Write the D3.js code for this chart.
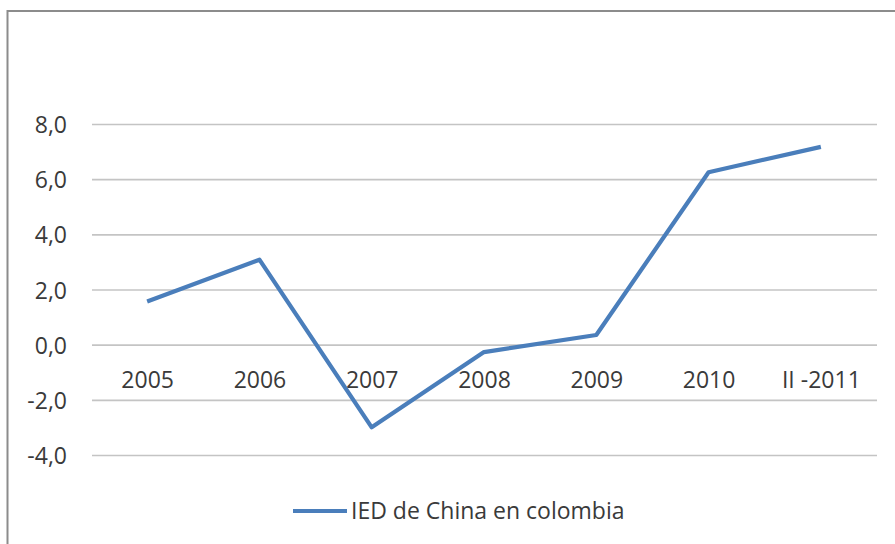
<!DOCTYPE html>
<html>
<head>
<meta charset="utf-8">
<script src="https://cdn.jsdelivr.net/npm/d3@7"></script>
<style>
html,body{margin:0;padding:0;background:#fff;}
svg{display:block;}
</style>
</head>
<body>
<svg id="chart" width="895" height="544"></svg>
<script>
const categories = ["2005","2006","2007","2008","2009","2010","II -2011"];
const values = [1.58, 3.10, -2.98, -0.25, 0.37, 6.27, 7.19];
const yTicks = [-4, -2, 0, 2, 4, 6, 8];
const seriesName = "IED de China en colombia";

const svg = d3.select("#chart");
const font = "'Open Sans', 'Noto Sans', sans-serif";
const textColor = "#3a3a3a";
const fs = 23;

// outer border
svg.append("rect")
  .attr("x", 7.5).attr("y", 11)
  .attr("width", 900).attr("height", 600)
  .attr("fill", "none").attr("stroke", "#8c8c8c").attr("stroke-width", 2);

const x = d3.scalePoint().domain(categories).range([91, 877]).padding(0.5);
const y = d3.scaleLinear().domain([-4, 8]).range([455.5, 124.5]);

// gridlines
svg.append("g").selectAll("line").data(yTicks).join("line")
  .attr("x1", 92).attr("x2", 877)
  .attr("y1", d => y(d)).attr("y2", d => y(d))
  .attr("stroke", "#c4c4c4").attr("stroke-width", 1.6);

// y axis labels
const yAxis = d3.axisLeft(y).tickValues(yTicks)
  .tickFormat(d => d3.format(".1f")(d).replace(".", ",").replace("−", "-"))
  .tickSize(0).tickPadding(0);
const gy = svg.append("g").attr("transform", "translate(67,0)").call(yAxis);
gy.select(".domain").remove();
gy.selectAll("text")
  .attr("font-family", font).attr("font-size", fs).attr("fill", textColor)
  .attr("dy", "0.35em");

// x axis labels (at zero line)
const xAxis = d3.axisBottom(x).tickSize(0).tickPadding(0);
const gx = svg.append("g").attr("transform", `translate(0,${y(0)})`).call(xAxis);
gx.select(".domain").remove();
gx.selectAll("text")
  .attr("font-family", font).attr("font-size", fs).attr("fill", textColor)
  .attr("dy", null).attr("y", 43);

// line
const line = d3.line().x((d, i) => x(categories[i])).y(d => y(d));
svg.append("path").datum(values)
  .attr("d", line)
  .attr("fill", "none").attr("stroke", "#4a7ebb")
  .attr("stroke-width", 4.2).attr("stroke-linejoin", "round").attr("stroke-linecap", "butt");

// legend
const lg = svg.append("g");
lg.append("line").attr("x1", 293).attr("x2", 347).attr("y1", 511).attr("y2", 511)
  .attr("stroke", "#4a7ebb").attr("stroke-width", 4.2);
lg.append("text").attr("x", 351).attr("y", 519)
  .attr("font-family", font).attr("font-size", fs).attr("fill", textColor)
  .text(seriesName);
</script>
</body>
</html>
